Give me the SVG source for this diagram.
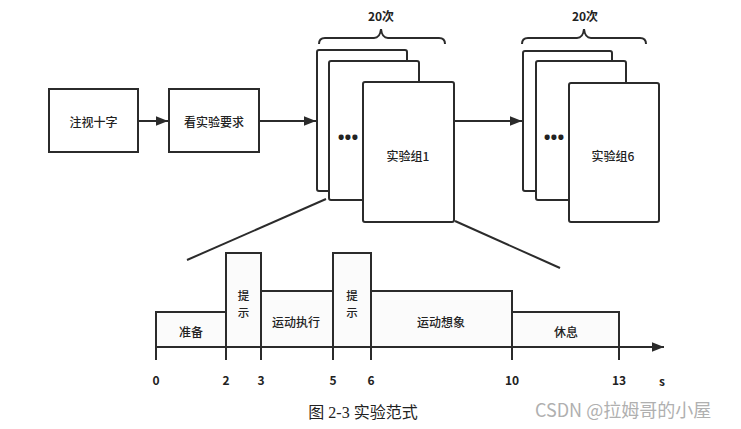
<svg xmlns="http://www.w3.org/2000/svg" width="741" height="429" viewBox="0 0 741 429">
  <defs>
    <style>
      .box { fill: #ffffff; stroke: #2b2b2b; stroke-width: 2; }
      .card { fill: #ffffff; stroke: #2b2b2b; stroke-width: 2; }
      .bar { fill: #fbfbfb; stroke: #2b2b2b; stroke-width: 2; }
      .line { fill: none; stroke: #2b2b2b; stroke-width: 2; }
      .label { font-family: "Noto Sans CJK SC", "Noto Sans", sans-serif; font-size: 12px; font-weight: 500; fill: #222; text-anchor: middle; dominant-baseline: central; }
      .cue { font-family: "Noto Sans CJK SC", "Noto Sans", sans-serif; font-size: 11.5px; font-weight: 500; fill: #222; text-anchor: middle; dominant-baseline: central; }
      .bold { font-family: "Noto Sans CJK SC", "Noto Sans", sans-serif; font-size: 12px; font-weight: bold; fill: #222; text-anchor: middle; dominant-baseline: central; }
      .dots { font-family: "Noto Sans", sans-serif; font-size: 18px; font-weight: bold; fill: #222; text-anchor: middle; dominant-baseline: central; }
      .caption { font-family: "Liberation Serif", "Noto Sans CJK SC", serif; font-size: 16px; fill: #222; text-anchor: middle; }
      .mark { font-family: "Noto Sans CJK SC", "Noto Sans", sans-serif; font-size: 18px; fill: #b0b0b0; }
    </style>
    <marker id="arrow" viewBox="0 0 10 10" refX="10" refY="5" markerWidth="6" markerHeight="6" markerUnits="strokeWidth" orient="auto">
      <path d="M0,1 L10,5 L0,9 z" fill="#2b2b2b"/>
    </marker>
  </defs>
  <rect width="741" height="429" fill="#ffffff"/>

  <!-- flow connectors and zoom lines -->
  <g id="connectors">
    <line class="line" x1="138" y1="121" x2="168" y2="121" marker-end="url(#arrow)"/>
    <line class="line" x1="259" y1="121" x2="316" y2="121" marker-end="url(#arrow)"/>
    <line class="line" x1="454" y1="121" x2="522" y2="121" marker-end="url(#arrow)"/>
    <line class="line" x1="326" y1="199" x2="187" y2="260"/>
    <line class="line" x1="455" y1="221" x2="560" y2="268"/>
  </g>

  <g id="fixation">
    <rect class="box" x="49" y="89" width="89" height="63"/>
    <text class="label" x="93.5" y="121">注视十字</text>
  </g>

  <g id="instruction">
    <rect class="box" x="169" y="89" width="90" height="63"/>
    <text class="label" x="214" y="121">看实验要求</text>
  </g>

  <g id="block1">
    <path class="line" d="M319,44 Q319,38 325,38 L374,38 Q380,38 381,29 Q382,38 388,38 L439,38 Q445,38 445,44"/>
    <text class="bold" x="381" y="15">20次</text>
    <rect class="card" x="317" y="50" width="90" height="141" rx="2"/>
    <rect class="card" x="329" y="61" width="90" height="139" rx="2"/>
    <text class="dots" x="348" y="137">•••</text>
    <rect class="card" x="363" y="82" width="91" height="140" rx="2"/>
    <text class="label" x="408" y="155">实验组1</text>
  </g>

  <g id="block6">
    <path class="line" d="M522,44 Q522,38 528,38 L577,38 Q583,38 584,29 Q585,38 591,38 L640,38 Q646,38 646,44"/>
    <text class="bold" x="585" y="15">20次</text>
    <rect class="card" x="523" y="51" width="89" height="140" rx="2"/>
    <rect class="card" x="536" y="61" width="90" height="139" rx="2"/>
    <text class="dots" x="554" y="137">•••</text>
    <rect class="card" x="569" y="83" width="90" height="139" rx="2"/>
    <text class="label" x="613" y="155">实验组6</text>
  </g>

  <!-- trial timeline -->
  <g id="timeline">
    <rect class="bar" x="156" y="312" width="70" height="35"/>
    <rect class="bar" x="226" y="253" width="35" height="94"/>
    <rect class="bar" x="261" y="291" width="72" height="56"/>
    <rect class="bar" x="333" y="253" width="38" height="94"/>
    <rect class="bar" x="371" y="291" width="141" height="56"/>
    <rect class="bar" x="512" y="312" width="107" height="35"/>

    <line class="line" x1="155" y1="347" x2="664" y2="347" marker-end="url(#arrow)"/>
    <g class="line">
      <line x1="156" y1="347" x2="156" y2="360"/>
      <line x1="226" y1="347" x2="226" y2="360"/>
      <line x1="261" y1="347" x2="261" y2="360"/>
      <line x1="333" y1="347" x2="333" y2="360"/>
      <line x1="371" y1="347" x2="371" y2="360"/>
      <line x1="512" y1="347" x2="512" y2="360"/>
      <line x1="619" y1="347" x2="619" y2="360"/>
    </g>

    <text class="label" x="191" y="331">准备</text>
    <text class="cue" x="243.5" y="295">提</text>
    <text class="cue" x="243.5" y="312">示</text>
    <text class="label" x="296" y="321">运动执行</text>
    <text class="cue" x="352" y="295">提</text>
    <text class="cue" x="352" y="312">示</text>
    <text class="label" x="441" y="321">运动想象</text>
    <text class="label" x="566" y="331">休息</text>

    <text class="bold" x="156" y="379">0</text>
    <text class="bold" x="226" y="379">2</text>
    <text class="bold" x="261" y="379">3</text>
    <text class="bold" x="333" y="379">5</text>
    <text class="bold" x="371" y="379">6</text>
    <text class="bold" x="512" y="379">10</text>
    <text class="bold" x="619" y="379">13</text>
    <text class="bold" x="662" y="380">s</text>
  </g>

  <text class="caption" x="363" y="418">图 2-3  实验范式</text>
  <text class="mark" x="535" y="417">CSDN @拉姆哥的小屋</text>
</svg>
